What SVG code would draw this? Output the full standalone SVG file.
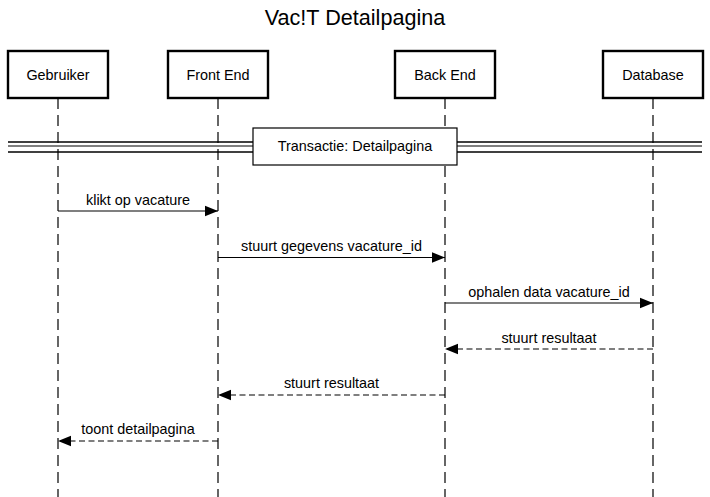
<svg xmlns="http://www.w3.org/2000/svg" width="710" height="497" viewBox="0 0 710 497">
<style>
text{font-family:"Liberation Sans",Arial,sans-serif;fill:#000}
.lbl{font-size:14.4px;text-anchor:middle}
.title{font-size:21.6px;text-anchor:middle}
.actor{fill:#fff;stroke:#000;stroke-width:2.4}
.life{stroke:#000;stroke-width:1.2;stroke-dasharray:11 6;fill:none}
.msg{stroke:#000;stroke-width:1.2;fill:none;marker-end:url(#ah)}
.ret{stroke:#000;stroke-width:1.2;fill:none;stroke-dasharray:6 3.5;marker-end:url(#ah)}
.sep{stroke:#000;fill:none}
</style>
<defs>
<marker id="ah" markerUnits="userSpaceOnUse" markerWidth="14" markerHeight="12" viewBox="0 0 14 12" refX="13" refY="6" orient="auto">
<path d="M0,0.8 L13,6 L0,11.2 Z" fill="#000"/>
</marker>
</defs>
<text class="title" x="355" y="25">Vac!T Detailpagina</text>
<g id="separator">
<line class="sep" x1="8" y1="142" x2="702" y2="142" stroke-width="1.4" stroke="#333"/>
<line class="sep" x1="8" y1="146" x2="702" y2="146" stroke-width="1" stroke="#555"/>
<line class="sep" x1="8" y1="152" x2="702" y2="152" stroke-width="1.4"/>
</g>
<g id="lifelines">
<line class="life" x1="58" y1="98" x2="58" y2="497"/>
<line class="life" x1="218" y1="98" x2="218" y2="497"/>
<line class="life" x1="445" y1="98" x2="445" y2="497"/>
<line class="life" x1="653" y1="98" x2="653" y2="497"/>
</g>
<g id="gebruiker"><rect class="actor" x="8" y="51" width="100" height="47"/><text class="lbl" x="58" y="80">Gebruiker</text></g>
<g id="frontend"><rect class="actor" x="168" y="51" width="100" height="47"/><text class="lbl" x="218" y="80">Front End</text></g>
<g id="backend"><rect class="actor" x="395" y="51" width="100" height="47"/><text class="lbl" x="445" y="80">Back End</text></g>
<g id="database"><rect class="actor" x="603" y="51" width="100" height="47"/><text class="lbl" x="653" y="80">Database</text></g>
<g id="transactie"><rect x="253" y="128" width="204" height="37" fill="#fff" stroke="#000" stroke-width="1.2"/><text class="lbl" x="355" y="151">Transactie: Detailpagina</text></g>
<g id="connectors">
<line class="msg" x1="58" y1="211" x2="218" y2="211"/>
<text class="lbl" x="138" y="205">klikt op vacature</text>
<line class="msg" x1="218" y1="257.5" x2="445" y2="257.5"/>
<text class="lbl" x="331.5" y="251">stuurt gegevens vacature_id</text>
<line class="msg" x1="445" y1="303" x2="653" y2="303"/>
<text class="lbl" x="549" y="297">ophalen data vacature_id</text>
<line class="ret" x1="653" y1="349" x2="445" y2="349"/>
<text class="lbl" x="549" y="343">stuurt resultaat</text>
<line class="ret" x1="445" y1="395" x2="218" y2="395"/>
<text class="lbl" x="331.5" y="388">stuurt resultaat</text>
<line class="ret" x1="218" y1="441" x2="58" y2="441"/>
<text class="lbl" x="138" y="434">toont detailpagina</text>
</g>
</svg>
